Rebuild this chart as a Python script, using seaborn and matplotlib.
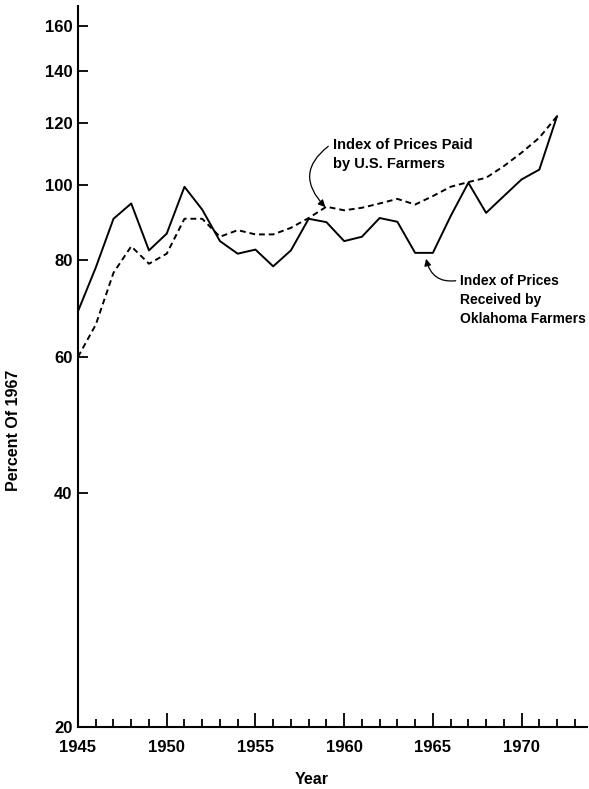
import numpy as np
import pandas as pd
import matplotlib
matplotlib.use("Agg")
import matplotlib.pyplot as plt
import seaborn as sns
from matplotlib.ticker import FixedLocator, NullLocator, FixedFormatter, MultipleLocator

years = list(range(1945, 1973))
received_ok = [68.7, 78.2, 90.4, 94.6, 82.3, 86.5, 99.4, 92.9, 84.6, 81.5,
               82.5, 78.5, 82.3, 90.4, 89.5, 84.6, 85.7, 90.6, 89.6, 81.7,
               81.7, 91.1, 100.6, 92.0, 96.7, 101.6, 104.6, 122.6]
paid_us = [60.0, 66.0, 77.0, 83.3, 79.1, 81.5, 90.4, 90.4, 85.7, 87.4,
           86.3, 86.3, 88.0, 90.6, 93.7, 92.7, 93.4, 94.6, 95.9, 94.3,
           96.7, 99.4, 100.8, 102.1, 105.7, 110.0, 115.0, 122.6]
y_ticks = [20, 40, 60, 80, 100, 120, 140, 160]
x_ticks = [1945, 1950, 1955, 1960, 1965, 1970]

df = pd.DataFrame({
    "Year": years * 2,
    "Percent": received_ok + paid_us,
    "Series": ["Received"] * len(years) + ["Paid"] * len(years),
})

sns.set_style("white")
plt.rcParams["font.family"] = ["Liberation Sans", "DejaVu Sans"]
plt.rcParams["font.weight"] = "bold"
plt.rcParams["text.color"] = "black"
plt.rcParams["xtick.color"] = "black"
plt.rcParams["ytick.color"] = "black"

fig = plt.figure(figsize=(5.89, 7.89), dpi=100)
ax = fig.add_axes([78 / 589, 1 - 727 / 789, (589 - 78) / 589 - 0.003, (727 - 6) / 789])

sns.lineplot(data=df[df.Series == "Received"], x="Year", y="Percent", ax=ax,
             color="black", linewidth=1.4, legend=False)
sns.lineplot(data=df[df.Series == "Paid"], x="Year", y="Percent", ax=ax,
             color="black", linewidth=1.4, legend=False)
ax.lines[1].set_linestyle((0, (3, 2)))

ax.set_yscale("log")
ax.set_ylim(20, 170)
ax.set_xlim(1945, 1973.7)
ax.yaxis.set_major_locator(FixedLocator(y_ticks))
ax.yaxis.set_major_formatter(FixedFormatter([str(t) for t in y_ticks]))
ax.yaxis.set_minor_locator(NullLocator())
ax.xaxis.set_major_locator(FixedLocator(x_ticks))
ax.xaxis.set_minor_locator(MultipleLocator(1))

for s in ["top", "right"]:
    ax.spines[s].set_visible(False)
for s in ["left", "bottom"]:
    ax.spines[s].set_linewidth(1.5)
    ax.spines[s].set_color("black")

ax.tick_params(axis="y", which="major", direction="in", length=7, width=1.3,
               labelsize=12, pad=4, left=True, labelcolor="black")
ax.tick_params(axis="x", which="major", direction="in", length=10, width=1.3,
               labelsize=12, pad=9, bottom=True, labelcolor="black")
ax.tick_params(axis="x", which="minor", direction="in", length=6, width=1.3, bottom=True)
for lab in ax.get_xticklabels() + ax.get_yticklabels():
    lab.set_fontweight("bold")
ax.set_xlabel("")
ax.set_ylabel("")

fig.text(14 / 589, 1 - 430 / 789, "Percent Of 1967", rotation=90, ha="center",
         va="center", fontsize=11.5, fontweight="bold", color="black")
fig.text(312 / 589, 1 - 779 / 789, "Year", ha="center", va="center",
         fontsize=11.5, fontweight="bold", color="black")

ax.annotate("Index of Prices Paid\nby U.S. Farmers", xy=(1959.0, 93.3),
            xytext=(1959.35, 109.4), fontsize=10.5, fontweight="bold",
            ha="left", va="center", linespacing=1.4, color="black",
            arrowprops=dict(arrowstyle="-|>", color="black", lw=0.9,
                            connectionstyle="arc3,rad=0.6",
                            shrinkA=1, shrinkB=1, relpos=(0, 0.85)))
ax.annotate("Index of Prices\nReceived by\nOklahoma Farmers", xy=(1964.6, 80.6),
            xytext=(1966.55, 71.1), fontsize=10, fontweight="bold",
            ha="left", va="center", linespacing=1.45, color="black",
            arrowprops=dict(arrowstyle="-|>", color="black", lw=0.9,
                            connectionstyle="arc3,rad=-0.5",
                            shrinkA=1, shrinkB=1,
                            relpos=(0, 0.88)))

fig.savefig("out.png", dpi=100)
